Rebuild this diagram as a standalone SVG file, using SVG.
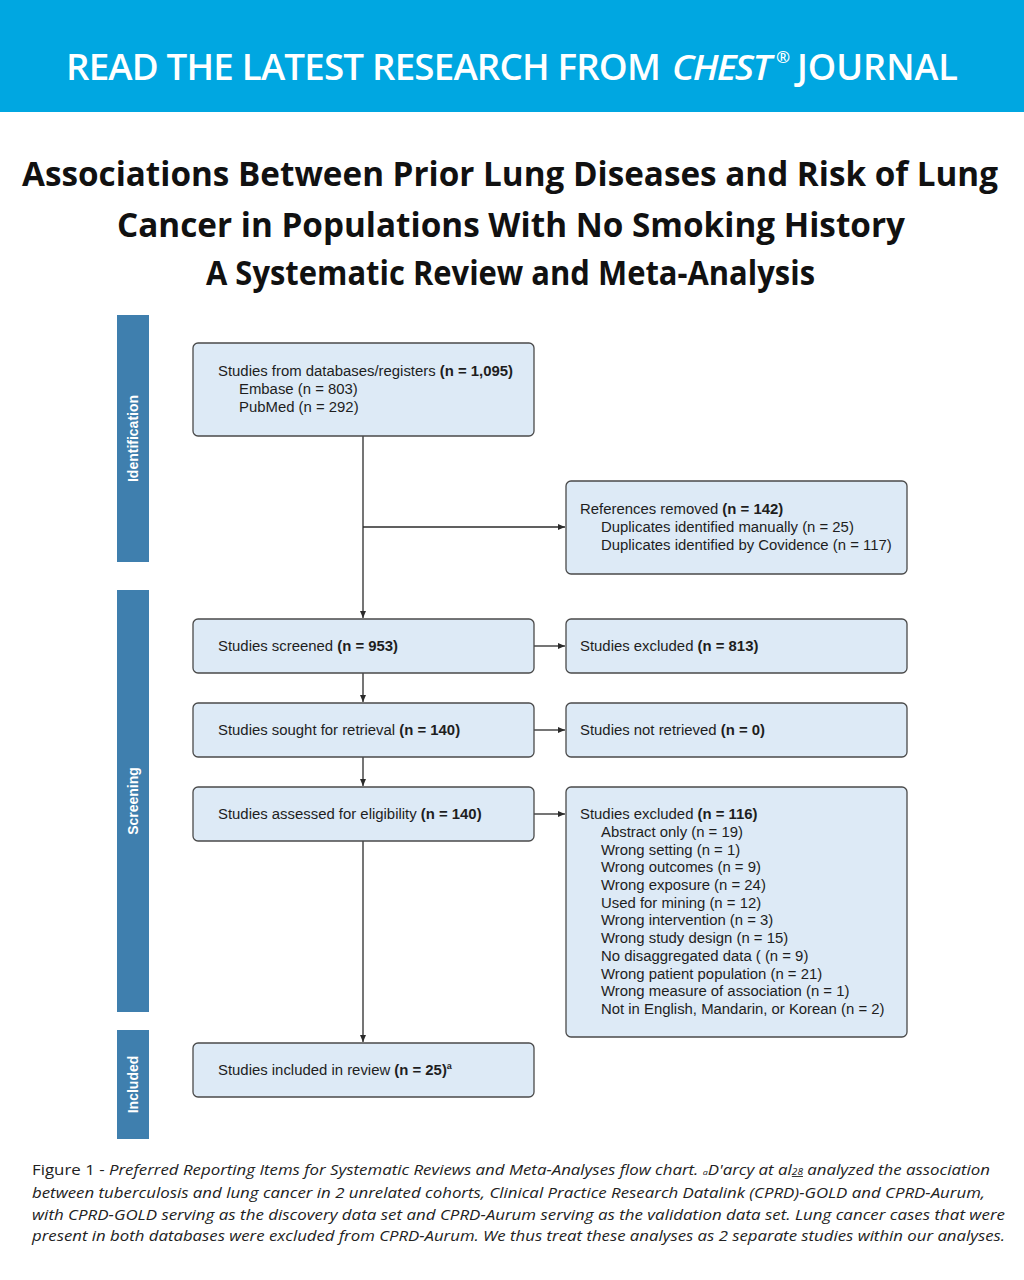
<svg xmlns="http://www.w3.org/2000/svg" width="1024" height="1280" viewBox="0 0 1024 1280">
<defs>
<marker id="ah" markerWidth="8" markerHeight="8" refX="7" refY="4" orient="auto" markerUnits="userSpaceOnUse">
<path d="M0,1 L7,4 L0,7 Z" fill="#2b2b2b"/>
</marker>
<style>
.box{fill:#DDEAF6;stroke:#4a4a4a;stroke-width:1.3}
.bar{fill:#3F7FAE}
.bt{font-family:"Liberation Sans",Arial,sans-serif;font-size:14.9px;fill:#1e1e1e}
.b{font-weight:bold}
.lane{font-family:"Liberation Sans",Arial,sans-serif;font-size:14px;font-weight:bold;fill:#ffffff}
.con{stroke:#2b2b2b;stroke-width:1.3;fill:none}
.title{font-family:"Open Sans","Liberation Sans",sans-serif;font-weight:bold;font-size:34px;fill:#111}
.cap{font-family:"Open Sans","Liberation Sans",sans-serif;font-size:15px;fill:#222}
.ban{font-family:"Open Sans","Liberation Sans",sans-serif;font-weight:600;font-size:36px;fill:#ffffff}
.reg{font-family:"Open Sans","Liberation Sans",sans-serif;font-weight:600;font-size:17px;fill:#ffffff}
</style>
</defs>
<rect x="0" y="0" width="1024" height="1280" fill="#ffffff"/>
<g id="banner">
<rect x="0" y="0" width="1024" height="112" fill="#00A7E1"/>
<text class="ban" x="66" y="80" letter-spacing="-0.8" textLength="594" lengthAdjust="spacingAndGlyphs">READ THE LATEST RESEARCH FROM</text>
<text class="ban" x="672" y="80" font-style="italic" style="font-size:34px" letter-spacing="-1.6" textLength="98" lengthAdjust="spacingAndGlyphs">CHEST</text>
<text class="reg" x="776" y="63">®</text>
<text class="ban" x="797" y="80" textLength="161" lengthAdjust="spacingAndGlyphs">JOURNAL</text>
</g>
<g id="title">
<text class="title" x="22" y="186" textLength="976" lengthAdjust="spacingAndGlyphs">Associations Between Prior Lung Diseases and Risk of Lung</text>
<text class="title" x="117" y="237" textLength="788" lengthAdjust="spacingAndGlyphs">Cancer in Populations With No Smoking History</text>
<text class="title" x="206" y="285" textLength="609" lengthAdjust="spacingAndGlyphs">A Systematic Review and Meta-Analysis</text>
</g>
<g id="lane-identification">
<rect class="bar" x="117" y="315" width="32" height="247"/>
<text class="lane" transform="translate(138,438.5) rotate(-90)" text-anchor="middle">Identification</text>
</g>
<g id="lane-screening">
<rect class="bar" x="117" y="590" width="32" height="422"/>
<text class="lane" transform="translate(138,801) rotate(-90)" text-anchor="middle">Screening</text>
</g>
<g id="lane-included">
<rect class="bar" x="117" y="1030" width="32" height="109"/>
<text class="lane" transform="translate(138,1084.5) rotate(-90)" text-anchor="middle">Included</text>
</g>
<g id="connectors">
<line class="con" x1="363" y1="436" x2="363" y2="618" marker-end="url(#ah)"/>
<line class="con" x1="363" y1="527" x2="565" y2="527" marker-end="url(#ah)"/>
<line class="con" x1="363" y1="673" x2="363" y2="702" marker-end="url(#ah)"/>
<line class="con" x1="363" y1="757" x2="363" y2="786" marker-end="url(#ah)"/>
<line class="con" x1="363" y1="841" x2="363" y2="1042" marker-end="url(#ah)"/>
<line class="con" x1="534" y1="646" x2="565" y2="646" marker-end="url(#ah)"/>
<line class="con" x1="534" y1="730" x2="565" y2="730" marker-end="url(#ah)"/>
<line class="con" x1="534" y1="814" x2="565" y2="814" marker-end="url(#ah)"/>
</g>
<g id="n-databases">
<rect class="box" x="193" y="343" width="341" height="93" rx="5"/>
<text class="bt" x="218" y="376">Studies from databases/registers <tspan class="b">(n = 1,095)</tspan></text>
<text class="bt" x="239" y="394">Embase (n = 803)</text>
<text class="bt" x="239" y="412">PubMed (n = 292)</text>
</g>
<g id="n-removed">
<rect class="box" x="566" y="481" width="341" height="93" rx="5"/>
<text class="bt" x="580" y="514">References removed <tspan class="b">(n = 142)</tspan></text>
<text class="bt" x="601" y="532">Duplicates identified manually (n = 25)</text>
<text class="bt" x="601" y="550">Duplicates identified by Covidence (n = 117)</text>
</g>
<g id="n-screened">
<rect class="box" x="193" y="619" width="341" height="54" rx="5"/>
<text class="bt" x="218" y="651">Studies screened <tspan class="b">(n = 953)</tspan></text>
</g>
<g id="n-excluded1">
<rect class="box" x="566" y="619" width="341" height="54" rx="5"/>
<text class="bt" x="580" y="651">Studies excluded <tspan class="b">(n = 813)</tspan></text>
</g>
<g id="n-sought">
<rect class="box" x="193" y="703" width="341" height="54" rx="5"/>
<text class="bt" x="218" y="735">Studies sought for retrieval <tspan class="b">(n = 140)</tspan></text>
</g>
<g id="n-notretrieved">
<rect class="box" x="566" y="703" width="341" height="54" rx="5"/>
<text class="bt" x="580" y="735">Studies not retrieved <tspan class="b">(n = 0)</tspan></text>
</g>
<g id="n-assessed">
<rect class="box" x="193" y="787" width="341" height="54" rx="5"/>
<text class="bt" x="218" y="819">Studies assessed for eligibility <tspan class="b">(n = 140)</tspan></text>
</g>
<g id="n-excluded2">
<rect class="box" x="566" y="787" width="341" height="250" rx="5"/>
<text class="bt" x="580" y="819">Studies excluded <tspan class="b">(n = 116)</tspan></text>
<text class="bt" x="601" y="837">Abstract only (n = 19)</text>
<text class="bt" x="601" y="855">Wrong setting (n = 1)</text>
<text class="bt" x="601" y="872">Wrong outcomes (n = 9)</text>
<text class="bt" x="601" y="890">Wrong exposure (n = 24)</text>
<text class="bt" x="601" y="908">Used for mining (n = 12)</text>
<text class="bt" x="601" y="925">Wrong intervention (n = 3)</text>
<text class="bt" x="601" y="943">Wrong study design (n = 15)</text>
<text class="bt" x="601" y="961">No disaggregated data ( (n = 9)</text>
<text class="bt" x="601" y="979">Wrong patient population (n = 21)</text>
<text class="bt" x="601" y="996">Wrong measure of association (n = 1)</text>
<text class="bt" x="601" y="1014">Not in English, Mandarin, or Korean (n = 2)</text>
</g>
<g id="n-included">
<rect class="box" x="193" y="1043" width="341" height="54" rx="5"/>
<text class="bt" x="218" y="1075">Studies included in review <tspan class="b">(n = 25)</tspan><tspan class="b" font-size="9" dy="-6">a</tspan></text>
</g>
<g id="caption">
<text class="cap" x="32" y="1175" textLength="958" lengthAdjust="spacingAndGlyphs">Figure 1 - <tspan font-style="italic">Preferred Reporting Items for Systematic Reviews and Meta-Analyses flow chart. </tspan><tspan font-style="italic" font-size="8">a</tspan><tspan font-style="italic">D'arcy at al</tspan><tspan font-style="italic" font-size="9" text-decoration="underline">28</tspan><tspan font-style="italic"> analyzed the association</tspan></text>
<text class="cap" x="32" y="1198" font-style="italic" textLength="953" lengthAdjust="spacingAndGlyphs">between tuberculosis and lung cancer in 2 unrelated cohorts, Clinical Practice Research Datalink (CPRD)-GOLD and CPRD-Aurum,</text>
<text class="cap" x="32" y="1220" font-style="italic" textLength="973" lengthAdjust="spacingAndGlyphs">with CPRD-GOLD serving as the discovery data set and CPRD-Aurum serving as the validation data set. Lung cancer cases that were</text>
<text class="cap" x="32" y="1241" font-style="italic" textLength="973" lengthAdjust="spacingAndGlyphs">present in both databases were excluded from CPRD-Aurum. We thus treat these analyses as 2 separate studies within our analyses.</text>
</g>
</svg>
